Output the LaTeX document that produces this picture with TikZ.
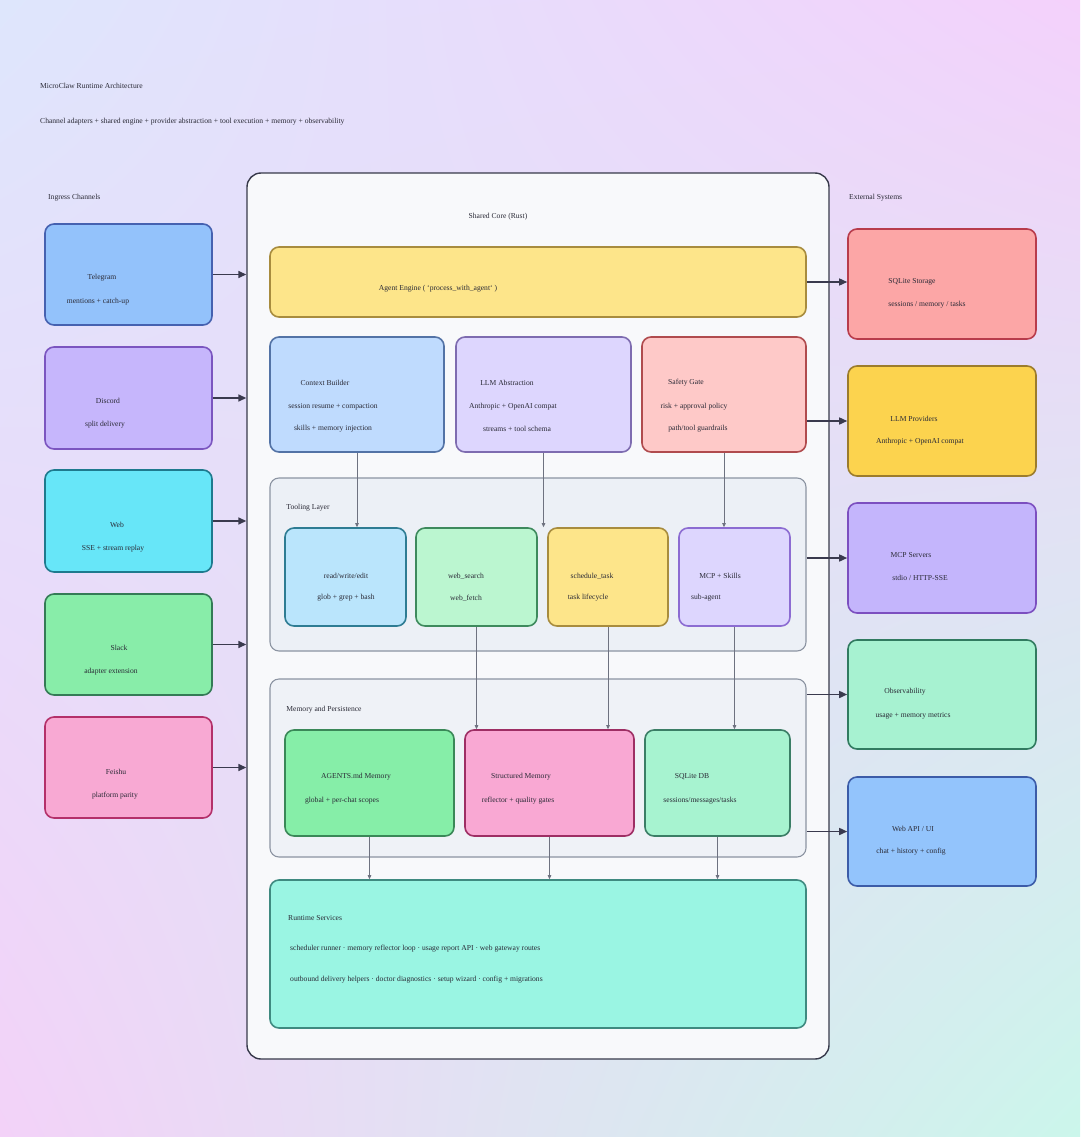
\documentclass[tikz,border=0pt]{standalone}
\usepackage{fontspec}
\setmainfont{Liberation Serif}
\usetikzlibrary{fit,arrows.meta,shadings}

\definecolor{bgTL}{HTML}{DEE6FC}
\definecolor{bgTR}{HTML}{F4D1FB}
\definecolor{bgBL}{HTML}{F3D2F8}
\definecolor{bgBR}{HTML}{CBF6EB}
\definecolor{txt}{HTML}{2A2A36}
\definecolor{arrc}{HTML}{3A3A4E}
\definecolor{thinc}{HTML}{6E7280}
% box fills and borders
\definecolor{coreD}{HTML}{37394A}\definecolor{coreF}{HTML}{F8F9FB}
\definecolor{grpD}{HTML}{8C94A2}\definecolor{grpF}{HTML}{ECF0F6}\definecolor{grpF2}{HTML}{EFF2F7}
\definecolor{tgF}{HTML}{93C2FB}\definecolor{tgD}{HTML}{4561B0}
\definecolor{dcF}{HTML}{C6B6FC}\definecolor{dcD}{HTML}{7B55C0}
\definecolor{wbF}{HTML}{67E6F8}\definecolor{wbD}{HTML}{1E7A8E}
\definecolor{slF}{HTML}{88EDA9}\definecolor{slD}{HTML}{347B56}
\definecolor{fsF}{HTML}{F8A9D3}\definecolor{fsD}{HTML}{B4306A}
\definecolor{yelF}{HTML}{FDE58A}\definecolor{yelD}{HTML}{A88C3E}
\definecolor{cbF}{HTML}{BFDBFE}\definecolor{cbD}{HTML}{5373A6}
\definecolor{lavF}{HTML}{DDD6FE}\definecolor{llmD}{HTML}{7E6CB0}
\definecolor{sgF}{HTML}{FEC9C8}\definecolor{sgD}{HTML}{B04B4E}
\definecolor{rweF}{HTML}{BAE5FC}\definecolor{rweD}{HTML}{2E7C93}
\definecolor{wsF}{HTML}{BBF6D0}\definecolor{wsD}{HTML}{3E8A5D}
\definecolor{mcpD}{HTML}{8C6CD2}
\definecolor{agmF}{HTML}{86EEA8}\definecolor{agmD}{HTML}{3A8858}
\definecolor{smF}{HTML}{F9A8D3}\definecolor{smD}{HTML}{9E2E64}
\definecolor{dbF}{HTML}{A7F3D0}\definecolor{dbD}{HTML}{3B7E66}
\definecolor{rtF}{HTML}{9AF5E3}\definecolor{rtD}{HTML}{3F8A80}
\definecolor{sqsF}{HTML}{FCA6A6}\definecolor{sqsD}{HTML}{B83C4C}
\definecolor{lpF}{HTML}{FCD34E}\definecolor{lpD}{HTML}{9C7C2C}
\definecolor{msF}{HTML}{C4B5FC}\definecolor{msD}{HTML}{7C4FC0}
\definecolor{obF}{HTML}{A7F2D1}\definecolor{obD}{HTML}{317B60}
\definecolor{waF}{HTML}{93C4FC}\definecolor{waD}{HTML}{3C5CA8}

\tikzset{
  box/.style={rounded corners=9pt, line width=1.6pt, inner sep=0pt},
  group/.style={rounded corners=9pt, line width=1.1pt, inner sep=0pt, draw=grpD},
  lbl/.style={font=\fontsize{7.6}{8}\selectfont, text=txt, inner sep=0pt},
  lbll/.style={lbl, anchor=west},
  arr/.style={draw=arrc, line width=1.5pt, -{Triangle[length=8pt,width=7pt]}},
  thinarr/.style={draw=thinc, line width=0.8pt, -{Triangle[length=4pt,width=3.5pt]}}
}

\begin{document}
\begin{tikzpicture}[x=1pt,y=-1pt]
\useasboundingbox (0,0) rectangle (1080,1137);
\shade[upper left=bgTL, upper right=bgTR, lower left=bgBL, lower right=bgBR] (0,0) rectangle (1080,1137);

% headings
\node[lbll] (title) at (40,86) {MicroClaw Runtime Architecture};
\node[lbll] (subtitle) at (40,122) {Channel adapters + shared engine + provider abstraction + tool execution + memory + observability};
\node[lbll] (ingresslbl) at (48,198) {Ingress Channels};
\node[lbll] (extlbl) at (849,198) {External Systems};

% shared core container
\node[box, line width=1.4pt, rounded corners=14pt, draw=coreD, fill=coreF, fit={(247,173)(829,1059)}] (core) {};
\node[lbl] (corelbl) at (498,217) {Shared Core (Rust)};

% ingress channels
\node[box, fill=tgF, draw=tgD, fit={(45,224)(212,325)}] (tg) {};
\node[lbl] (tgA) at (102,278) {Telegram};
\node[lbl] (tgB) at (98,302) {mentions + catch-up};
\node[box, fill=dcF, draw=dcD, fit={(45,347)(212,449)}] (dc) {};
\node[lbl] (dcA) at (108,401) {Discord};
\node[lbl] (dcB) at (105,425) {split delivery};
\node[box, fill=wbF, draw=wbD, fit={(45,470)(212,572)}] (wb) {};
\node[lbl] (wbA) at (117,525) {Web};
\node[lbl] (wbB) at (113,549) {SSE + stream replay};
\node[box, fill=slF, draw=slD, fit={(45,594)(212,695)}] (sl) {};
\node[lbl] (slA) at (119,648) {Slack};
\node[lbl] (slB) at (111,672) {adapter extension};
\node[box, fill=fsF, draw=fsD, fit={(45,717)(212,818)}] (fs) {};
\node[lbl] (fsA) at (116,772) {Feishu};
\node[lbl] (fsB) at (115,796) {platform parity};

\foreach \n in {tg,dc,wb,sl,fs}
  \draw[arr] (\n.east) -- (\n.east -| core.west);

% agent engine
\node[box, fill=yelF, draw=yelD, fit={(270,247)(806,317)}] (ae) {};
\node[lbl] (aeA) at (438,289) {Agent Engine ( `process\_with\_agent` )};

% second row
\node[box, fill=cbF, draw=cbD, fit={(270,337)(444,452)}] (cb) {};
\node[lbl] (cbA) at (325,383) {Context Builder};
\node[lbl] (cbB) at (333,407) {session resume + compaction};
\node[lbl] (cbC) at (333,429) {skills + memory injection};
\node[box, fill=lavF, draw=llmD, fit={(456,337)(631,452)}] (llm) {};
\node[lbl] (llmA) at (507,383) {LLM Abstraction};
\node[lbl] (llmB) at (513,407) {Anthropic + OpenAI compat};
\node[lbl] (llmC) at (517,429) {streams + tool schema};
\node[box, fill=sgF, draw=sgD, fit={(642,337)(806,452)}] (sg) {};
\node[lbl] (sgA) at (686,383) {Safety Gate};
\node[lbl] (sgB) at (694,407) {risk + approval policy};
\node[lbl] (sgC) at (698,429) {path/tool guardrails};

% tooling layer
\node[group, fill=grpF, fit={(270,478)(806,651)}] (tl) {};
\node[lbl] (tlA) at (308,508) {Tooling Layer};
\node[box, fill=rweF, draw=rweD, fit={(285,528)(406,626)}] (rwe) {};
\node[lbl] (rweA) at (346,576) {read/write/edit};
\node[lbl] (rweB) at (346,598) {glob + grep + bash};
\node[box, fill=wsF, draw=wsD, fit={(416,528)(537,626)}] (ws) {};
\node[lbl] (wsA) at (466,576) {web\_search};
\node[lbl] (wsB) at (466,598) {web\_fetch};
\node[box, fill=yelF, draw=yelD, fit={(548,528)(668,626)}] (st) {};
\node[lbl] (stA) at (592,576) {schedule\_task};
\node[lbl] (stB) at (588,598) {task lifecycle};
\node[box, fill=lavF, draw=mcpD, fit={(679,528)(790,626)}] (mcp) {};
\node[lbl] (mcpA) at (720,576) {MCP + Skills};
\node[lbl] (mcpB) at (706,598) {sub-agent};

% memory and persistence
\node[group, fill=grpF2, fit={(270,679)(806,857)}] (mem) {};
\node[lbl] (memA) at (324,710) {Memory and Persistence};
\node[box, fill=agmF, draw=agmD, fit={(285,730)(454,836)}] (agm) {};
\node[lbl] (agmA) at (356,777) {AGENTS.md Memory};
\node[lbl] (agmB) at (342,801) {global + per-chat scopes};
\node[box, fill=smF, draw=smD, fit={(465,730)(634,836)}] (sm) {};
\node[lbl] (smA) at (521,777) {Structured Memory};
\node[lbl] (smB) at (518,801) {reflector + quality gates};
\node[box, fill=dbF, draw=dbD, fit={(645,730)(790,836)}] (db) {};
\node[lbl] (dbA) at (692,777) {SQLite DB};
\node[lbl] (dbB) at (700,801) {sessions/messages/tasks};

% runtime services
\node[box, fill=rtF, draw=rtD, fit={(270,880)(806,1028)}] (rt) {};
\node[lbll] (rtA) at (288,918) {Runtime Services};
\node[lbll] (rtB) at (290,949) {scheduler runner · memory reflector loop · usage report API · web gateway routes};
\node[lbll] (rtC) at (290,980) {outbound delivery helpers · doctor diagnostics · setup wizard · config + migrations};

% external systems
\node[box, fill=sqsF, draw=sqsD, fit={(848,229)(1036,339)}] (sqs) {};
\node[lbl] (sqsA) at (912,282) {SQLite Storage};
\node[lbl] (sqsB) at (927,305) {sessions / memory / tasks};
\node[box, fill=lpF, draw=lpD, fit={(848,366)(1036,476)}] (llmp) {};
\node[lbl] (llmpA) at (914,419) {LLM Providers};
\node[lbl] (llmpB) at (920,442) {Anthropic + OpenAI compat};
\node[box, fill=msF, draw=msD, fit={(848,503)(1036,613)}] (mcps) {};
\node[lbl] (mcpsA) at (911,555) {MCP Servers};
\node[lbl] (mcpsB) at (920,578) {stdio / HTTP-SSE};
\node[box, fill=obF, draw=obD, fit={(848,640)(1036,749)}] (obs) {};
\node[lbl] (obsA) at (905,692) {Observability};
\node[lbl] (obsB) at (913,716) {usage + memory metrics};
\node[box, fill=waF, draw=waD, fit={(848,777)(1036,886)}] (wapi) {};
\node[lbl] (wapiA) at (913,829) {Web API / UI};
\node[lbl] (wapiB) at (911,852) {chat + history + config};

% outgoing edges
\draw[arr] (ae.east) -- (ae.east -| sqs.west);
\draw[arr] (sg.east |- llmp.west) -- (llmp.west);
\draw[arr] (tl.east |- mcps.west) -- (mcps.west);
\draw[arr] (mem.east |- obs.west) -- (obs.west);
\draw[arr] (mem.east |- wapi.west) -- (wapi.west);

% internal edges
\draw[thinarr] (cb.south) -- (cb.south |- rwe.north);
\draw[thinarr] (llm.south) -- (llm.south |- ws.north);
\draw[thinarr] (sg.south) -- (sg.south |- mcp.north);
\draw[thinarr] (ws.south) -- (ws.south |- sm.north);
\draw[thinarr] (st.south) -- (st.south |- sm.north);
\draw[thinarr] (mcp.south) -- (mcp.south |- db.north);
\draw[thinarr] (agm.south) -- (agm.south |- rt.north);
\draw[thinarr] (sm.south) -- (sm.south |- rt.north);
\draw[thinarr] (db.south) -- (db.south |- rt.north);
\end{tikzpicture}
\end{document}
